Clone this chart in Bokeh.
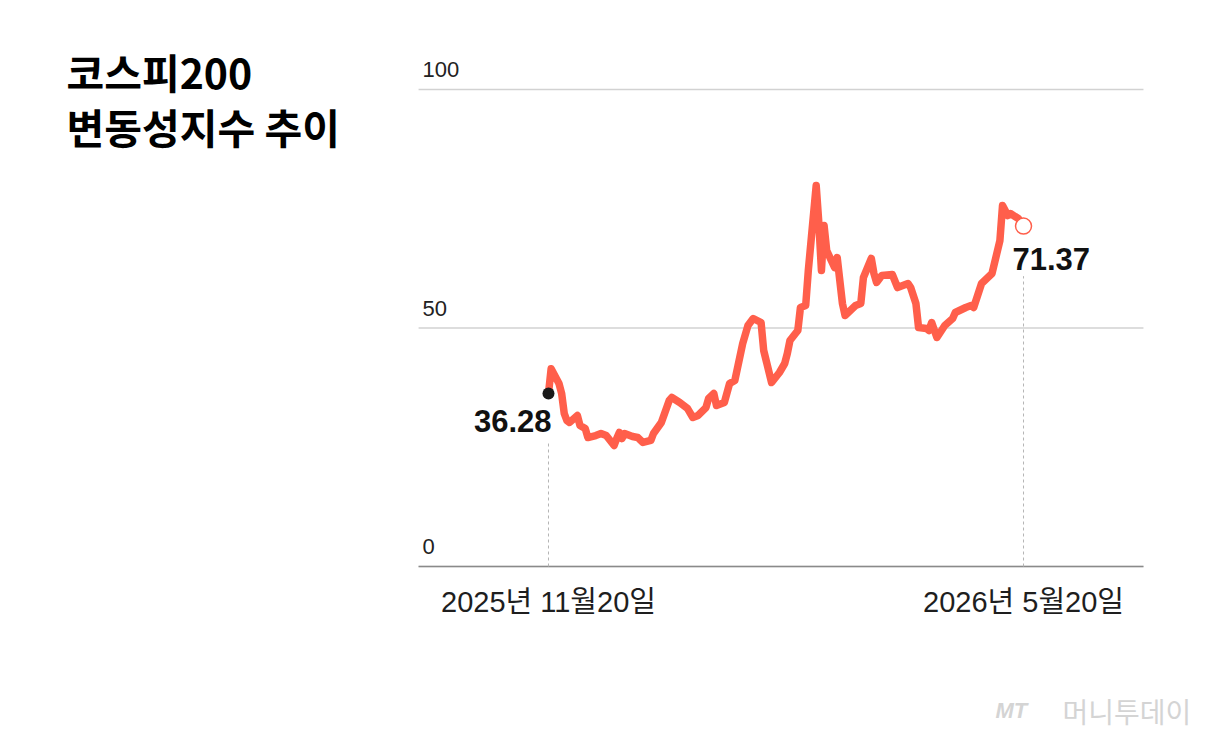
import pandas as pd
from bokeh.plotting import figure
from bokeh.models import Range1d, Label
from bokeh.core.properties import value
from bokeh.embed import file_html
from bokeh.resources import INLINE

# ---------------- data ----------------
title_lines = ["코스피200", "변동성지수 추이"]

dates = [
    "2025-11-20", "2025-11-21", "2025-11-24", "2025-11-25", "2025-11-26", "2025-11-27",
    "2025-11-28", "2025-12-01", "2025-12-02", "2025-12-04", "2025-12-05", "2025-12-08",
    "2025-12-10", "2025-12-12", "2025-12-15", "2025-12-16", "2025-12-17", "2025-12-18",
    "2025-12-19", "2025-12-22", "2025-12-24", "2025-12-26", "2025-12-29", "2025-12-30",
    "2026-01-02", "2026-01-05", "2026-01-06", "2026-01-09", "2026-01-12", "2026-01-14",
    "2026-01-16", "2026-01-19", "2026-01-20", "2026-01-22", "2026-01-23", "2026-01-26",
    "2026-01-28", "2026-01-30", "2026-02-02", "2026-02-04", "2026-02-06", "2026-02-09",
    "2026-02-10", "2026-02-13", "2026-02-16", "2026-02-18", "2026-02-19", "2026-02-20",
    "2026-02-23", "2026-02-24", "2026-02-26", "2026-02-27", "2026-03-02", "2026-03-03",
    "2026-03-04", "2026-03-05", "2026-03-06", "2026-03-09", "2026-03-10", "2026-03-12",
    "2026-03-13", "2026-03-17", "2026-03-19", "2026-03-20", "2026-03-23", "2026-03-24",
    "2026-03-25", "2026-03-27", "2026-03-31", "2026-04-02", "2026-04-06", "2026-04-07",
    "2026-04-09", "2026-04-10", "2026-04-13", "2026-04-14", "2026-04-15", "2026-04-17",
    "2026-04-20", "2026-04-23", "2026-04-24", "2026-04-28", "2026-04-30", "2026-05-01",
    "2026-05-04", "2026-05-06", "2026-05-08", "2026-05-11", "2026-05-12", "2026-05-14",
    "2026-05-15", "2026-05-18", "2026-05-20",
]

vkospi = [
    36.28, 41.45, 38.36, 36.30, 32.08, 30.61,
    30.19, 31.66, 29.56, 28.93, 27.04, 27.46,
    27.88, 27.46, 25.37, 26.83, 28.09, 26.83,
    27.88, 27.25, 27.04, 26.00, 26.42, 27.88,
    30.19, 34.80, 35.43, 34.38, 33.12, 31.24,
    31.66, 33.33, 35.22, 36.27, 33.75, 34.38,
    38.36, 38.99, 46.75, 50.52, 51.99, 51.15,
    45.28, 38.57, 40.67, 42.56, 44.65, 47.38,
    49.48, 54.30, 54.72, 62.05, 79.87, 72.12,
    62.05, 71.49, 66.25, 62.68, 64.78, 55.14,
    52.62, 54.72, 55.14, 60.59, 64.57, 61.43,
    59.54, 61.01, 61.22, 58.49, 59.33, 58.49,
    55.14, 50.10, 49.90, 49.48, 51.15, 48.01,
    50.52, 51.99, 53.25, 54.30, 54.72, 54.30,
    59.33, 60.38, 61.43, 68.34, 75.68, 73.58,
    74.00, 72.96, 71.37,
]

y_ticks = [0, 50, 100]
y_tick_labels = ["0", "50", "100"]
x_tick_labels = ["2025년 11월20일", "2026년 5월20일"]
brand_mark = "MT"
brand_name = "머니투데이"

# ---------------- layout ----------------
dt = pd.to_datetime(dates)
t_first, t_last = dt[0], dt[-1]
W, H = 1207, 735

# the whole canvas is the plotting frame; ranges chosen so the chart area sits right
x_range = Range1d(t_first - pd.Timedelta(days=208.8), t_first + pd.Timedelta(days=251.1))
y_range = Range1d(-35.43, 118.66)
chart_left = t_first - pd.Timedelta(days=49.5)
chart_right = t_first + pd.Timedelta(days=226.7)

p = figure(
    width=W, height=H,
    x_axis_type="datetime",
    x_range=x_range, y_range=y_range,
    output_backend="svg",
    toolbar_location=None,
    min_border=0,
    background_fill_color="white",
    border_fill_color="white",
)
p.outline_line_color = None
p.axis.visible = False
p.grid.visible = False

# horizontal gridlines (chart area only)
n = len(y_ticks)
p.segment(x0=[chart_left] * n, x1=[chart_right] * n, y0=y_ticks, y1=y_ticks,
          line_color="#d2d2d2", line_width=1.3)
# baseline axis
p.segment(x0=[chart_left], x1=[chart_right], y0=[y_ticks[0]], y1=[y_ticks[0]],
          line_color="#8a8a8a", line_width=1.6)

# y tick labels above gridlines
p.text(x=[chart_left] * n, y=y_ticks, text=y_tick_labels,
       x_offset=4, y_offset=-20, text_baseline="middle", text_align="left",
       text_font=value("Liberation Sans"), text_font_size="22px", text_color="#222222")

# x tick labels under the baseline at first and last date
p.text(x=[t_first, t_last], y=[y_ticks[0]] * 2, text=x_tick_labels,
       y_offset=35, text_align="center", text_baseline="middle",
       text_font=value("Liberation Sans, Noto Sans CJK KR"), text_font_size="29px",
       text_color="#1e1e1e")

# dashed guides
p.segment(x0=[t_first, t_last], y0=[0, 0], x1=[t_first, t_last],
          y1=[vkospi[0] - 10.5, vkospi[-1] - 10.5],
          line_color="#b5b5b5", line_width=1, line_dash="3 3")

# main line
line_color = "#ff5f4b"
p.line(dt, vkospi, line_color=line_color, line_width=7.5,
       line_join="round", line_cap="round")

# end markers
p.scatter(x=[t_first], y=[vkospi[0]], size=12, fill_color="#1a1a1a", line_color=None)
p.scatter(x=[t_last], y=[vkospi[-1]], size=16, fill_color="white",
          line_color=line_color, line_width=1.5)

# value labels
val_font = value("Liberation Sans")
p.text(x=[t_first], y=[vkospi[0]], text=[f"{vkospi[0]:.2f}"],
       x_offset=3, y_offset=28, text_align="right", text_baseline="middle",
       text_font=val_font, text_font_style="bold", text_font_size="31px",
       text_color="#111111")
p.text(x=[t_last], y=[vkospi[-1]], text=[f"{vkospi[-1]:.2f}"],
       x_offset=-11, y_offset=33, text_align="left", text_baseline="middle",
       text_font=val_font, text_font_style="bold", text_font_size="31px",
       text_color="#111111")

# title (screen units: origin bottom-left of canvas)
for i, line in enumerate(title_lines):
    p.add_layout(Label(x=66, y=H - 70 - 55 * i, x_units="screen", y_units="screen",
                       text=line, text_font="Noto Sans CJK KR", text_font_style="bold",
                       text_font_size="41px", text_color="#000000",
                       text_baseline="middle", text_align="left"))

# brand watermark
p.add_layout(Label(x=995, y=H - 710, x_units="screen", y_units="screen", text=brand_mark,
                   text_font="Liberation Sans", text_font_style="bold italic",
                   text_font_size="22px", text_color="#d4d4d4", text_baseline="middle"))
p.add_layout(Label(x=1062, y=H - 710, x_units="screen", y_units="screen", text=brand_name,
                   text_font="Noto Sans CJK KR", text_font_size="28px",
                   text_color="#d4d4d4", text_baseline="middle"))

open("out.html", "w").write(file_html(p, INLINE))
